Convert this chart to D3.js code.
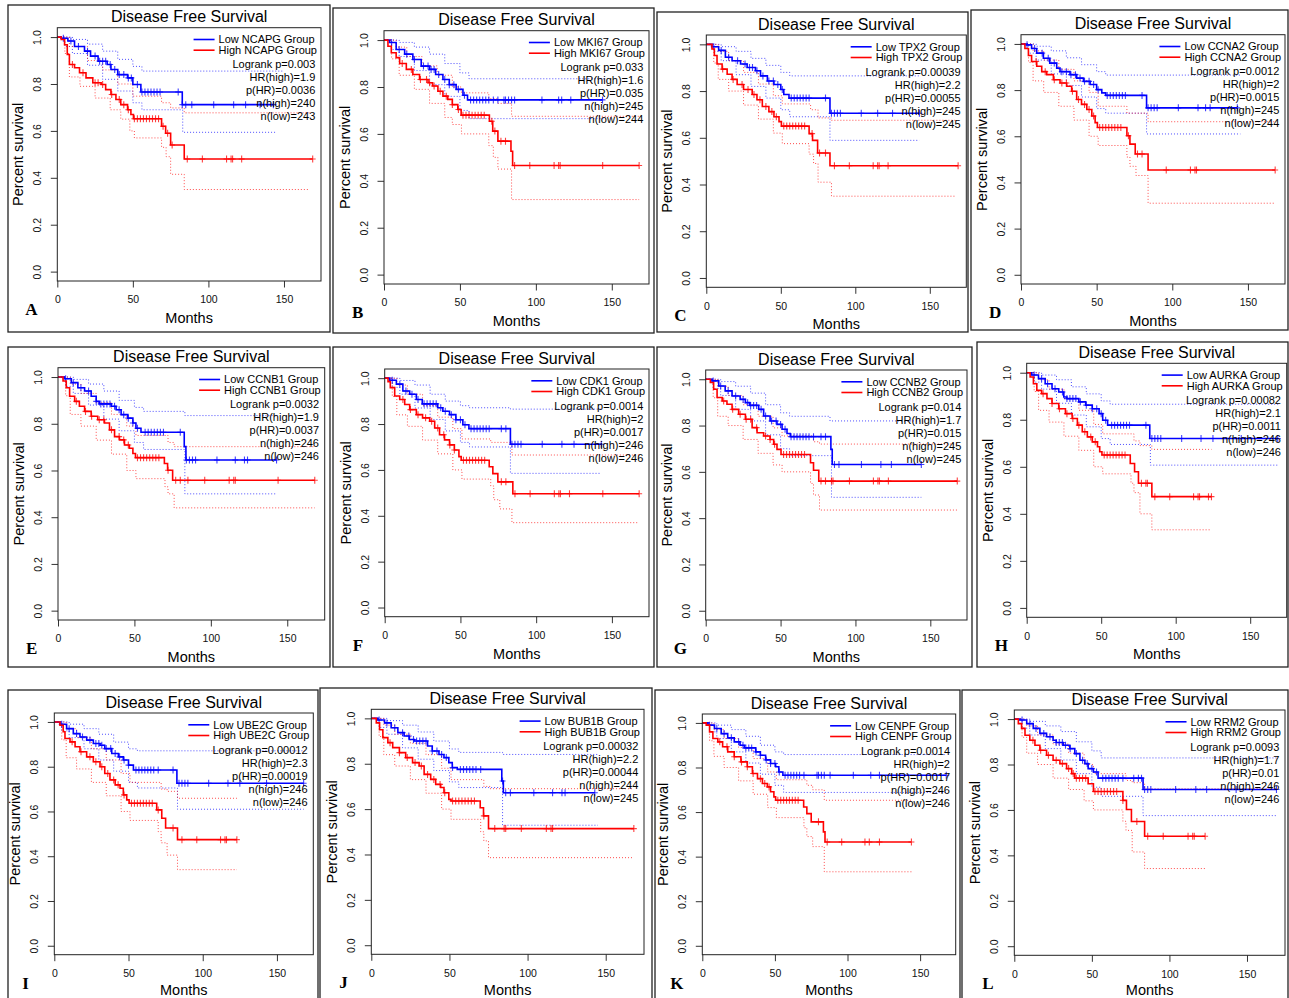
<!DOCTYPE html>
<html>
<head>
<meta charset="utf-8">
<script src="https://cdnjs.cloudflare.com/ajax/libs/d3/7.8.5/d3.min.js"></script>
<style>
  body { margin: 0; background: #fff; }
  svg { display: block; }
</style>
</head>
<body>
<script>
// panel labels and stats
var letters = ["A","B","C","D","E","F","G","H","I","J","K","L"];
var genes = ["NCAPG","MKI67","TPX2","CCNA2","CCNB1","CDK1","CCNB2","AURKA","UBE2C","BUB1B","CENPF","RRM2"];
var logrankP = ["0.003","0.033","0.00039","0.0012","0.0032","0.0014","0.014","0.00082","0.00012","0.00032","0.0014","0.0093"];
var hrHigh = ["1.9","1.6","2.2","2","1.9","2","1.7","2.1","2.3","2.2","2","1.7"];
var pHR = ["0.0036","0.035","0.00055","0.0015","0.0037","0.0017","0.015","0.0011","0.00019","0.00044","0.0017","0.01"];
var nHigh = [240,245,245,245,246,246,245,246,246,244,246,246];
var nLow = [243,244,245,244,246,246,245,246,246,245,246,246];
var xTicks = [0,50,100,150];
var yTicks = [0,0.2,0.4,0.6,0.8,1.0];

// survival curves: [month, survival after step]; last point = end of follow-up
var lowA = [[0,1],[2.6,0.995],[7,0.983],[11.4,0.96],[18,0.94],[22,0.919],[27,0.897],[33,0.883],[35.5,0.862],[40,0.84],[46.5,0.826],[50,0.798],[55.3,0.766],[82.7,0.712],[143,0.712]];
var highA = [[0,1],[2.6,0.99],[4.8,0.967],[6.6,0.926],[8,0.883],[11.4,0.869],[14.7,0.848],[19,0.826],[23.5,0.805],[29,0.798],[32,0.776],[35.5,0.755],[38.8,0.734],[42,0.712],[46.5,0.69],[48.7,0.67],[50.4,0.652],[69,0.62],[71.7,0.59],[75,0.54],[84,0.48],[169,0.48]];
var lowB = [[0,1],[3.7,0.99],[8,0.96],[13.6,0.94],[19,0.917],[24.5,0.889],[30,0.875],[34,0.853],[38.8,0.832],[43,0.81],[47.5,0.79],[52,0.765],[55,0.745],[143.9,0.745]];
var highB = [[0,1],[2.6,0.974],[4.8,0.946],[8,0.925],[10.3,0.9],[14.7,0.875],[19,0.853],[23.4,0.832],[29,0.818],[32,0.804],[35.5,0.782],[38.8,0.761],[42,0.747],[45,0.725],[48.6,0.704],[50.8,0.68],[69.4,0.654],[71.6,0.612],[75,0.569],[83.6,0.526],[84.7,0.465],[168,0.465]];
var lowC = [[0,1],[3.8,0.99],[8.3,0.974],[12.8,0.945],[17.3,0.93],[23,0.916],[27.4,0.901],[33,0.887],[36.4,0.865],[41,0.843],[45.4,0.828],[50,0.807],[52,0.785],[55.5,0.77],[83,0.705],[143,0.705]];
var highC = [[0,1],[3.8,0.98],[5.4,0.952],[7.2,0.916],[10.6,0.894],[14,0.872],[17.3,0.85],[20.7,0.828],[25,0.807],[30.8,0.785],[34,0.763],[37.6,0.734],[42,0.712],[45.4,0.69],[48.8,0.669],[50.4,0.65],[69,0.618],[71.3,0.589],[74.7,0.535],[83,0.48],[169,0.48]];
var lowD = [[0,1],[3.7,0.996],[7,0.98],[10.4,0.96],[14.8,0.938],[19,0.917],[23.6,0.895],[25.8,0.88],[32.4,0.867],[36.8,0.852],[41.3,0.838],[45.7,0.824],[50,0.802],[53.4,0.788],[56,0.777],[83,0.723],[143,0.723]];
var highD = [[0,1],[2.6,0.98],[4.9,0.95],[7,0.924],[10.4,0.903],[13.7,0.88],[17,0.867],[21.4,0.845],[25.8,0.831],[30.2,0.817],[33.5,0.795],[36.8,0.759],[40,0.738],[43.5,0.716],[46.8,0.688],[49,0.659],[50.5,0.638],[70,0.602],[72,0.566],[75.5,0.523],[84,0.454],[168,0.454]];
var lowE = [[0,1],[4.3,0.993],[8.7,0.976],[13,0.954],[17.4,0.94],[21.7,0.918],[25,0.896],[27,0.885],[34.8,0.875],[38,0.86],[41.3,0.839],[45.7,0.824],[49,0.803],[51,0.781],[54.3,0.764],[82.6,0.702],[83.7,0.645],[143,0.645]];
var highE = [[0,1],[3.3,0.983],[5.4,0.954],[7.6,0.918],[10.9,0.896],[14,0.875],[17.4,0.853],[21.7,0.832],[26,0.817],[30.4,0.803],[33.7,0.774],[37,0.745],[40.2,0.731],[43.5,0.709],[46.7,0.695],[49,0.673],[50.7,0.655],[69.6,0.63],[71.7,0.601],[75,0.558],[168,0.558]];
var lowF = [[0,1],[3.3,0.991],[7.7,0.974],[12,0.944],[16.5,0.93],[20.9,0.907],[24.8,0.888],[35,0.871],[38.4,0.856],[42.8,0.841],[47,0.819],[51.6,0.797],[55.6,0.78],[83,0.712],[143,0.712]];
var highF = [[0,1],[2.2,0.985],[3.7,0.959],[6.6,0.922],[9.9,0.907],[13.2,0.885],[16.5,0.863],[20.9,0.841],[25,0.827],[29.7,0.812],[33,0.783],[36.2,0.753],[39.5,0.731],[42.8,0.709],[46,0.687],[49,0.658],[50.5,0.642],[69,0.614],[71.4,0.584],[74.7,0.548],[84.6,0.496],[168,0.496]];
var lowG = [[0,1],[4.2,0.993],[8.7,0.971],[13,0.95],[17.6,0.928],[23,0.913],[26.5,0.899],[29.4,0.887],[35.4,0.87],[38.7,0.841],[43,0.82],[47.6,0.805],[51,0.784],[54.3,0.766],[56.5,0.752],[83.6,0.697],[84.5,0.632],[144,0.632]];
var highG = [[0,1],[3.1,0.986],[5.3,0.957],[7.6,0.921],[11,0.906],[14.2,0.892],[17.6,0.87],[22,0.849],[26.5,0.827],[31,0.791],[34.3,0.769],[38.7,0.755],[43,0.74],[45.4,0.719],[47.6,0.697],[50.3,0.675],[70,0.639],[72,0.607],[75.5,0.56],[168,0.56]];
var lowH = [[0,1],[3.4,0.99],[7.9,0.975],[12.4,0.953],[17,0.932],[21.5,0.918],[24.9,0.897],[27,0.89],[35,0.876],[39.6,0.862],[44,0.847],[48.6,0.826],[51,0.798],[54.3,0.777],[82.6,0.72],[168.5,0.72]];
var highH = [[0,1],[2.3,0.982],[4.5,0.953],[6.8,0.925],[10,0.911],[13.6,0.89],[17,0.869],[21.5,0.847],[26,0.826],[30.5,0.805],[34,0.777],[37.3,0.749],[40.7,0.727],[44,0.706],[47.5,0.685],[49,0.664],[50.5,0.65],[69.5,0.614],[72.4,0.579],[75,0.53],[84,0.473],[124,0.473]];
var lowI = [[0,1],[3.8,0.99],[8.3,0.97],[12.8,0.948],[17.3,0.933],[21.8,0.919],[26.3,0.904],[30.8,0.896],[34,0.881],[38.7,0.859],[43.2,0.844],[46.5,0.83],[50,0.807],[53.3,0.785],[82.6,0.726],[168,0.726]];
var highI = [[0,1],[3.8,0.985],[6,0.956],[7.2,0.926],[10.6,0.911],[14,0.889],[17.3,0.867],[21.8,0.844],[26.3,0.822],[30.8,0.8],[34,0.77],[37.5,0.741],[41,0.719],[44.3,0.704],[46.5,0.674],[48.8,0.652],[50.4,0.637],[69,0.607],[72.4,0.57],[75,0.526],[83,0.474],[123,0.474]];
var lowJ = [[0,1],[4.2,0.993],[8.5,0.98],[12.7,0.959],[17,0.937],[21,0.922],[24.3,0.907],[27.5,0.9],[36,0.878],[39,0.856],[43.3,0.841],[46.5,0.827],[49.6,0.805],[51.8,0.783],[55,0.775],[83.5,0.724],[84.5,0.672],[143,0.672]];
var highJ = [[0,1],[3.2,0.98],[5.3,0.95],[7.4,0.915],[10.6,0.893],[13.7,0.871],[18,0.849],[22,0.827],[26.4,0.805],[30.6,0.79],[33.8,0.753],[38,0.731],[41.2,0.709],[44.4,0.695],[46.5,0.672],[49.6,0.643],[51,0.636],[69.7,0.606],[71.8,0.57],[75,0.514],[168,0.514]];
var lowK = [[0,1],[3.9,0.99],[8.4,0.975],[13,0.952],[17.5,0.933],[22,0.915],[26,0.9],[29,0.888],[36.8,0.87],[40,0.855],[43.6,0.834],[47,0.818],[50.5,0.803],[52.7,0.78],[55.5,0.765],[168,0.765]];
var highK = [[0,1],[2.7,0.99],[5,0.96],[7.3,0.93],[10.7,0.915],[14,0.893],[17.5,0.87],[22,0.848],[26.6,0.825],[31,0.803],[34.5,0.773],[38,0.75],[41.4,0.728],[44.8,0.713],[47,0.691],[49.3,0.668],[50.5,0.653],[69.8,0.623],[72,0.593],[75,0.556],[83.4,0.511],[84.5,0.466],[144,0.466]];
var lowL = [[0,1],[3.6,0.996],[8,0.98],[12.2,0.959],[16.5,0.937],[20.8,0.922],[25,0.907],[27,0.897],[31.5,0.885],[35.8,0.87],[39,0.848],[42.3,0.819],[45.5,0.804],[47.6,0.782],[51,0.767],[54,0.74],[83,0.69],[169,0.69]];
var highL = [[0,1],[2.6,0.98],[4.7,0.959],[6.9,0.929],[10,0.907],[13.3,0.885],[16.5,0.863],[20.8,0.841],[25,0.819],[29.4,0.804],[33.7,0.782],[37,0.76],[39,0.74],[47.6,0.715],[51,0.681],[70,0.642],[72.3,0.602],[75.5,0.549],[84,0.484],[123,0.484]];

// confidence bands (dotted)
var ciLowUpA = [[0,1],[10,0.99],[20,0.97],[30,0.94],[40,0.905],[50,0.875],[56,0.855],[149,0.855]];
var ciLowDnA = [[0,1],[5,0.96],[10,0.93],[20,0.88],[30,0.82],[40,0.77],[50,0.72],[56,0.69],[83,0.594],[145,0.594]];
var ciHighUpA = [[0,1],[8,0.96],[20,0.9],[30,0.86],[40,0.8],[50,0.748],[69,0.72],[75,0.698],[84,0.677],[167,0.677]];
var ciHighDnA = [[0,1],[5,0.93],[8,0.83],[15,0.79],[25,0.74],[35,0.69],[42,0.65],[48,0.6],[51,0.57],[69,0.53],[72,0.49],[75,0.415],[84,0.35],[167,0.35]];
var ciLowUpB = [[0,1],[10,0.99],[20,0.97],[30,0.94],[40,0.9],[50,0.86],[56,0.835],[145,0.835]];
var ciLowDnB = [[0,1],[5,0.96],[10,0.93],[20,0.87],[30,0.81],[40,0.76],[50,0.7],[56,0.665],[145,0.665]];
var ciHighUpB = [[0,1],[8,0.97],[15,0.93],[25,0.89],[35,0.85],[45,0.8],[51,0.775],[69,0.75],[75,0.73],[84,0.675],[168,0.675]];
var ciHighDnB = [[0,1],[5,0.92],[10,0.85],[20,0.79],[30,0.73],[40,0.67],[45,0.64],[51,0.6],[69,0.55],[72,0.5],[75,0.45],[84,0.32],[168,0.32]];
var ciLowUpC = [[0,1],[10,0.99],[20,0.97],[30,0.94],[40,0.91],[50,0.88],[56,0.865],[143,0.865]];
var ciLowDnC = [[0,1],[5,0.97],[10,0.93],[20,0.87],[30,0.82],[40,0.77],[50,0.72],[56,0.69],[83,0.589],[143,0.589]];
var ciHighUpC = [[0,1],[8,0.97],[15,0.93],[25,0.88],[35,0.83],[45,0.78],[51,0.745],[70,0.72],[75,0.685],[84,0.675],[167,0.675]];
var ciHighDnC = [[0,1],[5,0.92],[8,0.85],[15,0.8],[25,0.74],[35,0.68],[45,0.62],[51,0.575],[69,0.53],[72,0.49],[75,0.41],[84,0.35],[167,0.35]];
var ciLowUpD = [[0,1],[10,0.99],[20,0.97],[30,0.94],[40,0.91],[50,0.88],[56,0.865],[145,0.865]];
var ciLowDnD = [[0,1],[5,0.96],[10,0.93],[20,0.87],[30,0.82],[40,0.77],[50,0.72],[56,0.7],[83,0.61],[145,0.61]];
var ciHighUpD = [[0,1],[8,0.97],[15,0.93],[25,0.89],[35,0.84],[45,0.79],[51,0.73],[70,0.7],[84,0.663],[168,0.663]];
var ciHighDnD = [[0,1],[5,0.92],[8,0.84],[15,0.79],[25,0.73],[35,0.67],[45,0.6],[51,0.56],[70,0.51],[72,0.47],[76,0.43],[84,0.31],[168,0.31]];
var ciLowUpE = [[0,1],[10,0.99],[20,0.97],[30,0.94],[40,0.9],[50,0.87],[56,0.853],[83,0.835],[143,0.835]];
var ciLowDnE = [[0,1],[5,0.96],[10,0.93],[20,0.88],[30,0.82],[40,0.77],[50,0.72],[56,0.69],[83,0.5],[143,0.5]];
var ciHighUpE = [[0,1],[8,0.97],[15,0.93],[25,0.89],[35,0.84],[45,0.79],[51,0.75],[72,0.72],[76,0.702],[168,0.702]];
var ciHighDnE = [[0,1],[5,0.92],[8,0.84],[15,0.79],[25,0.73],[35,0.67],[45,0.6],[51,0.565],[70,0.53],[72,0.5],[76,0.44],[168,0.44]];
var ciLowUpF = [[0,1],[10,0.99],[20,0.97],[30,0.93],[40,0.9],[50,0.88],[56,0.871],[83,0.865],[143,0.865]];
var ciLowDnF = [[0,1],[5,0.96],[10,0.93],[20,0.87],[30,0.82],[40,0.77],[50,0.72],[56,0.7],[83,0.585],[143,0.585]];
var ciHighUpF = [[0,1],[8,0.97],[15,0.93],[25,0.88],[35,0.83],[45,0.78],[51,0.735],[70,0.72],[84,0.665],[168,0.665]];
var ciHighDnF = [[0,1],[5,0.92],[8,0.84],[15,0.79],[25,0.73],[35,0.67],[45,0.6],[51,0.56],[70,0.53],[72,0.47],[76,0.43],[84,0.37],[168,0.37]];
var ciLowUpG = [[0,1],[10,0.99],[20,0.97],[30,0.94],[40,0.89],[50,0.855],[56,0.84],[83,0.82],[144,0.82]];
var ciLowDnG = [[0,1],[5,0.96],[10,0.93],[20,0.87],[30,0.82],[40,0.76],[50,0.7],[56,0.67],[84,0.49],[144,0.49]];
var ciHighUpG = [[0,1],[8,0.97],[15,0.93],[25,0.89],[35,0.84],[45,0.79],[51,0.755],[72,0.73],[76,0.72],[168,0.72]];
var ciHighDnG = [[0,1],[5,0.92],[8,0.84],[15,0.8],[25,0.74],[35,0.68],[45,0.63],[51,0.6],[70,0.55],[72,0.5],[76,0.435],[168,0.435]];
var ciLowUpH = [[0,1],[10,0.99],[20,0.97],[30,0.94],[40,0.91],[50,0.88],[56,0.866],[169,0.866]];
var ciLowDnH = [[0,1],[5,0.96],[10,0.93],[20,0.87],[30,0.82],[40,0.77],[50,0.72],[56,0.695],[83,0.607],[169,0.607]];
var ciHighUpH = [[0,1],[8,0.97],[15,0.93],[25,0.89],[35,0.84],[45,0.78],[51,0.74],[72,0.71],[76,0.69],[84,0.674],[124,0.674]];
var ciHighDnH = [[0,1],[5,0.92],[8,0.84],[15,0.79],[25,0.73],[35,0.67],[45,0.6],[51,0.57],[70,0.53],[72,0.49],[76,0.4],[84,0.332],[124,0.332]];
var ciLowUpI = [[0,1],[10,0.99],[20,0.97],[30,0.945],[40,0.91],[50,0.88],[56,0.871],[168,0.871]];
var ciLowDnI = [[0,1],[5,0.96],[10,0.93],[20,0.88],[30,0.83],[40,0.78],[50,0.73],[56,0.705],[83,0.61],[168,0.61]];
var ciHighUpI = [[0,1],[8,0.97],[15,0.93],[25,0.88],[35,0.83],[45,0.77],[51,0.73],[72,0.7],[76,0.69],[83,0.659],[123,0.659]];
var ciHighDnI = [[0,1],[5,0.92],[8,0.84],[15,0.79],[25,0.73],[35,0.67],[45,0.6],[51,0.56],[70,0.51],[72,0.46],[76,0.405],[83,0.34],[123,0.34]];
var ciLowUpJ = [[0,1],[10,0.99],[20,0.97],[30,0.94],[40,0.9],[50,0.865],[56,0.85],[84,0.841],[145,0.841]];
var ciLowDnJ = [[0,1],[5,0.96],[10,0.93],[20,0.87],[30,0.82],[40,0.77],[50,0.72],[56,0.695],[84,0.529],[145,0.529]];
var ciHighUpJ = [[0,1],[8,0.97],[15,0.93],[25,0.89],[35,0.84],[45,0.78],[51,0.73],[72,0.7],[76,0.69],[168,0.69]];
var ciHighDnJ = [[0,1],[5,0.92],[8,0.84],[15,0.79],[25,0.73],[35,0.67],[45,0.6],[51,0.555],[70,0.5],[72,0.46],[75,0.386],[168,0.386]];
var ciLowUpK = [[0,1],[10,0.99],[20,0.97],[30,0.94],[40,0.9],[50,0.87],[56,0.858],[168,0.858]];
var ciLowDnK = [[0,1],[5,0.96],[10,0.93],[20,0.87],[30,0.82],[40,0.77],[50,0.72],[56,0.688],[168,0.688]];
var ciHighUpK = [[0,1],[8,0.97],[15,0.93],[25,0.89],[35,0.84],[45,0.78],[51,0.745],[72,0.72],[76,0.7],[84,0.653],[144,0.653]];
var ciHighDnK = [[0,1],[5,0.92],[8,0.85],[15,0.8],[25,0.74],[35,0.68],[45,0.62],[51,0.575],[70,0.53],[72,0.49],[76,0.445],[84,0.332],[144,0.332]];
var ciLowUpL = [[0,1],[10,0.99],[20,0.97],[30,0.945],[40,0.9],[50,0.86],[56,0.829],[169,0.829]];
var ciLowDnL = [[0,1],[5,0.96],[10,0.93],[20,0.87],[30,0.82],[40,0.76],[50,0.7],[56,0.66],[83,0.575],[169,0.575]];
var ciHighUpL = [[0,1],[8,0.97],[15,0.93],[25,0.89],[35,0.85],[45,0.8],[51,0.76],[72,0.73],[76,0.72],[84,0.693],[169,0.693]];
var ciHighDnL = [[0,1],[5,0.92],[8,0.85],[15,0.8],[25,0.74],[35,0.69],[45,0.64],[51,0.6],[70,0.55],[72,0.51],[76,0.415],[84,0.342],[123,0.342]];

// censored times (+ marks)
var censLowA = [4,9,14,20,25,28,30,32,35,38,41,44,47,49,53,56,58,60,62,64,66,68,80,82.7,85,89,103.5,116.7,124.6,134.2,143];
var censHighA = [10,17,25,27,30,36,41,44,47,51,53,55,57,59,61,63,65,67,70,73,76,86,96,112,115,116,122,169];
var censLowB = [5,10,15,20,26,29,31,33,36,40,43,46,49,53,57,59,61,63,65,67,69,72,75,79,80,82,84,86,104,115,117,123,143.9];
var censHighB = [12,18,24,28,30,33,37,41,45,49,52,54,56,58,60,62,64,66,71,73,77,80,86,96,112,115,116,144,168];
var censLowC = [5,10,15,21,26,29,31,34,38,42,45,48,51,57,59,61,63,65,67,69,80,84,86,88,90,104,115,125,143];
var censHighC = [11,18,24,28,32,36,40,44,47,52,54,56,58,60,62,64,66,71,76,80,86,96,112,115,116,122,169];
var censLowD = [4,9,14,18,22,27,30,33,36,39,42,45,48,51,57,59,61,63,65,67,69,80,84,86,88,90,104,117,122,125,143];
var censHighD = [10,16,22,27,30,34,38,42,45,48,52,54,56,58,60,62,64,66,71,77,80,96,112,115,116,168];
var censLowE = [5,10,15,20,25,28,30,32,34,37,40,43,46,49,52,57,59,61,63,65,67,69,80,84,86,88,90,104,116,122,124,143];
var censHighE = [12,18,22,27,30,35,40,43,46,52,54,56,58,60,62,64,66,72,77,80,85,96,112,115,116,144,168];
var censLowF = [5,10,14,18,22,26,28,30,32,34,37,40,44,47,50,53,57,59,61,63,65,67,69,77,80,84,86,88,90,104,117,125,143];
var censHighF = [12,17,22,27,31,35,39,43,46,52,54,56,58,60,62,64,66,77,80,86,96,112,115,116,122,144,168];
var censLowG = [5,10,15,20,25,28,30,32,34,37,40,44,47,50,53,57,59,61,63,65,67,69,72,77,80,86,89,104,117,124,144];
var censHighG = [12,18,23,27,30,34,40,43,46,52,54,56,58,60,62,64,66,77,80,84,85,96,112,115,116,122,168];
var censLowH = [5,10,14,19,24,27,29,31,33,36,40,44,47,50,53,57,59,61,63,65,67,69,80,84,86,88,90,104,117,125,144,168.5];
var censHighH = [11,17,22,27,31,35,39,43,46,52,54,56,58,60,62,64,66,77,80,81,86,96,112,115,116,122,124];
var censLowI = [5,10,15,19,24,28,30,32,35,38,41,44,47,50,55,57,59,61,63,65,67,70,80,84,86,88,90,104,117,125,143,168];
var censHighI = [12,18,24,28,32,36,40,43,47,52,54,56,58,60,62,64,66,70,80,86,96,112,115,116,123];
var censLowJ = [5,10,15,20,24,27,29,31,33,35,39,42,45,48,52,57,59,61,63,65,67,70,84,86,89,104,116,122,124,143];
var censHighJ = [12,18,23,28,32,36,40,44,47,52,54,56,58,60,62,64,66,72,79,85,86,96,112,115,116,168];
var censLowK = [5,10,15,20,25,28,30,32,34,37,40,44,47,50,53,57,59,61,63,65,67,70,79,80,82,84,88,104,116,122,168];
var censHighK = [12,17,22,27,31,35,40,43,46,52,54,56,58,60,62,64,66,80,86,96,112,115,122,144];
var censLowL = [5,10,14,19,23,27,29,31,33,36,40,44,47,50,53,57,59,61,63,65,67,70,77,80,82,84,86,88,104,117,124,143,169];
var censHighL = [12,17,22,27,31,35,38,40,42,44,46,52,54,56,58,60,62,64,66,70,79,86,96,112,115,116,123];

var lowCurves = [lowA,lowB,lowC,lowD,lowE,lowF,lowG,lowH,lowI,lowJ,lowK,lowL];
var highCurves = [highA,highB,highC,highD,highE,highF,highG,highH,highI,highJ,highK,highL];
var ciLowUp = [ciLowUpA,ciLowUpB,ciLowUpC,ciLowUpD,ciLowUpE,ciLowUpF,ciLowUpG,ciLowUpH,ciLowUpI,ciLowUpJ,ciLowUpK,ciLowUpL];
var ciLowDn = [ciLowDnA,ciLowDnB,ciLowDnC,ciLowDnD,ciLowDnE,ciLowDnF,ciLowDnG,ciLowDnH,ciLowDnI,ciLowDnJ,ciLowDnK,ciLowDnL];
var ciHighUp = [ciHighUpA,ciHighUpB,ciHighUpC,ciHighUpD,ciHighUpE,ciHighUpF,ciHighUpG,ciHighUpH,ciHighUpI,ciHighUpJ,ciHighUpK,ciHighUpL];
var ciHighDn = [ciHighDnA,ciHighDnB,ciHighDnC,ciHighDnD,ciHighDnE,ciHighDnF,ciHighDnG,ciHighDnH,ciHighDnI,ciHighDnJ,ciHighDnK,ciHighDnL];
var censLow = [censLowA,censLowB,censLowC,censLowD,censLowE,censLowF,censLowG,censLowH,censLowI,censLowJ,censLowK,censLowL];
var censHigh = [censHighA,censHighB,censHighC,censHighD,censHighE,censHighF,censHighG,censHighH,censHighI,censHighJ,censHighK,censHighL];

// layout: outer frame and plot box of each panel (pixels)
var frames = [[8,5,330,332],[333,8,654,333],[657,12,968,332],[971,10,1288,330],
              [8,347,330,667],[333,347,654,667],[657,347,972,667],[977,342,1288,667],
              [8,690,318,1000],[320,688,652,1000],[655,690,960,1000],[962,690,1288,1000]];
var plotBoxes = [[57.3,27.7,321,281],[384,30.7,649,284],[706.3,35,966.3,287.3],[1021,34.7,1285,284],
                 [58,367.7,324.7,620],[384.7,369,649,616.7],[705.7,370,967,620],[1026.7,363.3,1286.7,617.3],
                 [54.3,713,313.3,954.7],[371.3,709.3,644,954.3],[702.3,714,955.7,954.7],[1014.3,710,1285,955.3]];

var sans = "'Liberation Sans', Arial, Helvetica, sans-serif";
var blue = "#0000ff", red = "#ff0000";

var svg = d3.select("body").append("svg")
    .attr("width", 1289)
    .attr("height", 998);

var bisect = d3.bisector(function(d) { return d[0]; }).right;

letters.forEach(function(letter, i) {
    var fr = frames[i], pb = plotBoxes[i];
    var x = d3.scaleLinear().domain([0, 174.5]).range([pb[0], pb[2]]);
    var y = d3.scaleLinear().domain([-0.04, 1.04]).range([pb[3], pb[1]]);
    var step = d3.line()
        .x(function(d) { return x(d[0]); })
        .y(function(d) { return y(d[1]); })
        .curve(d3.curveStepAfter);

    var g = svg.append("g").attr("class", "panel");

    g.append("rect")
        .attr("x", fr[0]).attr("y", fr[1])
        .attr("width", fr[2] - fr[0]).attr("height", fr[3] - fr[1])
        .attr("fill", "none")
        .attr("stroke", "#222")
        .attr("stroke-width", 1.3);

    // dotted confidence lines
    [[ciLowUp[i], blue], [ciLowDn[i], blue], [ciHighUp[i], red], [ciHighDn[i], red]].forEach(function(c) {
        g.append("path")
            .datum(c[0])
            .attr("d", step)
            .attr("fill", "none")
            .attr("stroke", c[1])
            .attr("stroke-opacity", 0.7)
            .attr("stroke-width", 1)
            .attr("stroke-dasharray", "1,2");
    });

    // survival curves
    [[lowCurves[i], blue, censLow[i]], [highCurves[i], red, censHigh[i]]].forEach(function(c) {
        var curve = c[0];
        g.append("path")
            .datum(curve)
            .attr("d", step)
            .attr("fill", "none")
            .attr("stroke", c[1])
            .attr("stroke-width", 1.6);

        g.selectAll(null)
            .data(c[2])
            .enter().append("path")
            .attr("d", function(t) {
                var k = Math.max(0, bisect(curve, t) - 1);
                var px = x(t), py = y(curve[k][1]);
                return "M" + (px - 3) + "," + py + "H" + (px + 3) + "M" + px + "," + (py - 3.5) + "V" + (py + 3.5);
            })
            .attr("stroke", c[1])
            .attr("stroke-opacity", 0.75)
            .attr("stroke-width", 1.1)
            .attr("fill", "none");
    });

    // axes
    var xa = g.append("g")
        .attr("transform", "translate(0," + pb[3] + ")")
        .call(d3.axisBottom(x).tickValues(xTicks).tickSize(6.5).tickPadding(8.5));
    xa.select(".domain").remove();
    xa.selectAll("line").attr("stroke", "#333");
    xa.selectAll("text").attr("font-family", sans).attr("font-size", 10.5).attr("fill", "#111");

    var ya = g.append("g")
        .attr("transform", "translate(" + pb[0] + ",0)")
        .call(d3.axisLeft(y).tickValues(yTicks).tickFormat(d3.format(".1f")).tickSize(6.5));
    ya.select(".domain").remove();
    ya.selectAll("line").attr("stroke", "#333");
    ya.selectAll("text")
        .attr("transform", "rotate(-90)")
        .attr("x", 0)
        .attr("y", -16)
        .attr("dy", 0)
        .attr("text-anchor", "middle")
        .attr("font-family", sans)
        .attr("font-size", 10.5)
        .attr("fill", "#111");

    g.append("rect")
        .attr("x", pb[0]).attr("y", pb[1])
        .attr("width", pb[2] - pb[0]).attr("height", pb[3] - pb[1])
        .attr("fill", "none")
        .attr("stroke", "#222")
        .attr("stroke-width", 1);

    // titles
    g.append("text")
        .attr("x", (pb[0] + pb[2]) / 2)
        .attr("y", pb[1] - 5.5)
        .attr("text-anchor", "middle")
        .attr("font-family", sans)
        .attr("font-size", 16)
        .text("Disease Free Survival");

    g.append("text")
        .attr("x", (pb[0] + pb[2]) / 2)
        .attr("y", Math.min(pb[3] + 42, 994.5))
        .attr("text-anchor", "middle")
        .attr("font-family", sans)
        .attr("font-size", 14.5)
        .text("Months");

    g.append("text")
        .attr("transform", "translate(" + (pb[0] - 34) + "," + ((pb[1] + pb[3]) / 2) + ") rotate(-90)")
        .attr("text-anchor", "middle")
        .attr("font-family", sans)
        .attr("font-size", 14.5)
        .text("Percent survival");

    g.append("text")
        .attr("x", pb[0] - 32)
        .attr("y", pb[3] + 34)
        .attr("font-family", "'Liberation Serif', 'Times New Roman', serif")
        .attr("font-weight", "bold")
        .attr("font-size", 17)
        .text(letter);

    // legend
    var names = ["Low " + genes[i] + " Group", "High " + genes[i] + " Group"];
    var leg = g.selectAll(null)
        .data(names)
        .enter().append("text")
        .attr("y", function(d, j) { return pb[1] + 15.5 + j * 10.7; })
        .attr("font-family", sans)
        .attr("font-size", 11)
        .text(function(d) { return d; });
    var maxW = d3.max(leg.nodes(), function(n) { return n.getComputedTextLength(); });
    var lx = pb[2] - 4 - maxW;
    leg.attr("x", lx);
    g.selectAll(null)
        .data([blue, red])
        .enter().append("line")
        .attr("x1", lx - 25).attr("x2", lx - 4)
        .attr("y1", function(d, j) { return pb[1] + 11.8 + j * 10.7; })
        .attr("y2", function(d, j) { return pb[1] + 11.8 + j * 10.7; })
        .attr("stroke", function(d) { return d; })
        .attr("stroke-width", 1.6);

    var stats = ["Logrank p=" + logrankP[i], "HR(high)=" + hrHigh[i], "p(HR)=" + pHR[i],
                 "n(high)=" + nHigh[i], "n(low)=" + nLow[i]];
    g.selectAll(null)
        .data(stats)
        .enter().append("text")
        .attr("x", pb[2] - 5.7)
        .attr("y", function(d, j) { return pb[1] + 40.5 + j * 13; })
        .attr("text-anchor", "end")
        .attr("font-family", sans)
        .attr("font-size", 11)
        .text(function(d) { return d; });
});
</script>
</body>
</html>
